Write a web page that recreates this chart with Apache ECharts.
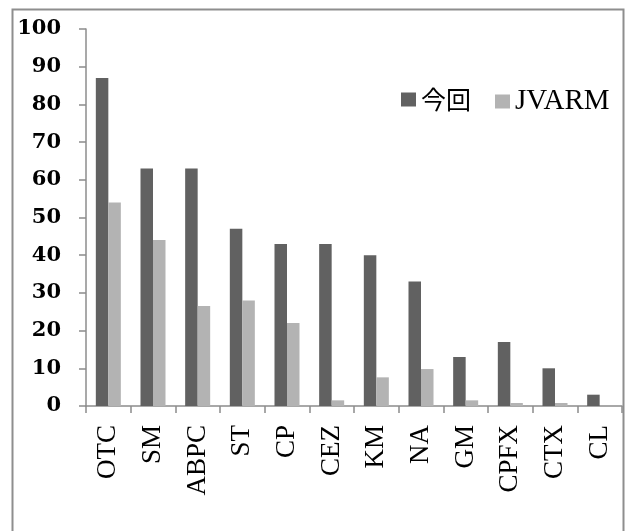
<!DOCTYPE html>
<html>
<head>
<meta charset="utf-8">
<script src="https://cdn.jsdelivr.net/npm/echarts@6/dist/echarts.min.js"></script>
<style>
html,body{margin:0;padding:0;background:#fff;}
#chart{width:628px;height:531px;}
</style>
</head>
<body>
<div id="chart"></div>
<script>
const categories = ['OTC','SM','ABPC','ST','CP','CEZ','KM','NA','GM','CPFX','CTX','CL'];
const seriesNames = ['今回','JVARM'];
const konkai = [87,63,63,47,43,43,40,33,13,17,10,3];
const jvarm = [54,44,26.5,28,22,1.5,7.6,9.8,1.5,0.8,0.8,0];

const chart = echarts.init(document.getElementById('chart'));
const axisGray = '#8c8c8c';
chart.setOption({
  animation: false,
  backgroundColor: '#ffffff',
  graphic: [{
    type: 'rect',
    shape: {x: 12.5, y: 9.5, width: 611, height: 540},
    style: {fill: 'none', stroke: '#8e8e8e', lineWidth: 2},
    silent: true
  }],
  legend: [{
    data: [seriesNames[0]],
    left: 401, top: 87,
    padding: 0,
    itemWidth: 15, itemHeight: 14, itemGap: 6,
    icon: 'rect',
    textStyle: {fontFamily: 'Noto Sans CJK JP', fontSize: 25, color: '#000'}
  },{
    data: [seriesNames[1]],
    left: 495, top: 87,
    padding: 0,
    itemWidth: 15, itemHeight: 14,
    icon: 'rect',
    textStyle: {fontFamily: 'Liberation Serif', fontSize: 29, color: '#000'}
  }],
  grid: {left: 86, right: 6, top: 29, bottom: 125, containLabel: false},
  xAxis: {
    type: 'category',
    data: categories,
    axisLine: {lineStyle: {color: axisGray, width: 1.5}},
    axisTick: {show: true, length: 7, lineStyle: {color: axisGray, width: 1.5}},
    axisLabel: {rotate: 90, margin: 19, fontFamily: 'Liberation Serif', fontSize: 27, color: '#000', interval: 0},
    splitLine: {show: false}
  },
  yAxis: {
    type: 'value',
    min: 0, max: 100, interval: 10,
    axisLine: {show: true, lineStyle: {color: axisGray, width: 1.5}},
    axisTick: {show: true, length: 7, lineStyle: {color: axisGray, width: 1.5}},
    axisLabel: {margin: 25, fontFamily: 'DejaVu Serif', fontWeight: 'bold', fontSize: 21, color: '#000'},
    splitLine: {show: false}
  },
  series: [{
    name: seriesNames[0],
    type: 'bar',
    data: konkai,
    barWidth: '28%',
    barGap: '0%',
    itemStyle: {color: '#616161'}
  },{
    name: seriesNames[1],
    type: 'bar',
    data: jvarm,
    barWidth: '28%',
    barGap: '0%',
    itemStyle: {color: '#b3b3b3'}
  }]
});
</script>
</body>
</html>
